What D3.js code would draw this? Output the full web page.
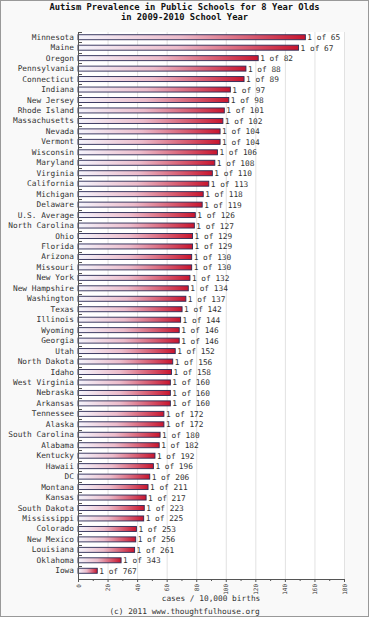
<!DOCTYPE html>
<html><head><meta charset="utf-8">
<script src="https://cdn.jsdelivr.net/npm/d3@7/dist/d3.min.js"></script>
<style>
html,body{margin:0;padding:0;background:#fff;}
svg{display:block;}
text{font-family:"DejaVu Sans Mono",monospace;}
</style></head>
<body>
<svg id="c" width="369" height="617"></svg>
<script>
const states = ["Minnesota","Maine","Oregon","Pennsylvania","Connecticut","Indiana","New Jersey","Rhode Island","Massachusetts","Nevada","Vermont","Wisconsin","Maryland","Virginia","California","Michigan","Delaware","U.S. Average","North Carolina","Ohio","Florida","Arizona","Missouri","New York","New Hampshire","Washington","Texas","Illinois","Wyoming","Georgia","Utah","North Dakota","Idaho","West Virginia","Nebraska","Arkansas","Tennessee","Alaska","South Carolina","Alabama","Kentucky","Hawaii","DC","Montana","Kansas","South Dakota","Mississippi","Colorado","New Mexico","Louisiana","Oklahoma","Iowa"];
const oneIn = [65,67,82,88,89,97,98,101,102,104,104,106,108,110,113,118,119,126,127,129,129,130,130,132,134,137,142,144,146,146,152,156,158,160,160,160,172,172,180,182,192,196,206,211,217,223,225,253,256,261,343,767];
const xTicks = [0,20,40,60,80,100,120,140,160,180];
const titleLines = ["Autism Prevalence in Public Schools for 8 Year Olds","in 2009-2010 School Year"];
const xTitle = "cases / 10,000 births";
const footer = "(c) 2011 www.thoughtfulhouse.org";

const data = states.map((s,i)=>({state:s, n:oneIn[i], v:10000/oneIn[i]}));
const svg = d3.select("#c");
const W=369,H=617;
const L=78,R=344,T=32,B=576,AX=579;

svg.append("rect").attr("x",0.5).attr("y",0.5).attr("width",W-1).attr("height",H-1)
  .attr("fill","#f9f9f9").attr("stroke","#999");

const x = d3.scaleLinear().domain([0,180]).range([L,R]);
const y = d3.scaleBand().domain(states).range([T,B]).padding(0);

svg.append("rect").attr("x",L).attr("y",T).attr("width",R-L).attr("height",AX-T).attr("fill","#fff");

const defs = svg.append("defs");
const g1 = defs.append("linearGradient").attr("id","bg").attr("x1","0").attr("x2","1").attr("y1","0").attr("y2","0");
g1.append("stop").attr("offset","0%").attr("stop-color","#f4f4fc");
g1.append("stop").attr("offset","45%").attr("stop-color","#ecbccb");
g1.append("stop").attr("offset","100%").attr("stop-color","#c8142e");

// grid
svg.append("g").selectAll("line").data(xTicks.slice(1)).join("line")
  .attr("x1",d=>x(d)+0.5).attr("x2",d=>x(d)+0.5).attr("y1",T).attr("y2",AX)
  .attr("stroke","#e2e2e2");

// title
svg.append("g").selectAll("text").data(titleLines).join("text")
  .attr("x",W/2).attr("y",(d,i)=>10+i*9.5).attr("text-anchor","middle")
  .attr("font-size",8.8).attr("font-weight","bold").attr("fill","#111").text(d=>d);

// bars
const bh=5;
svg.append("g").selectAll("rect").data(data).join("rect")
  .attr("x",L).attr("y",d=>y(d.state)+y.bandwidth()/2-bh/2)
  .attr("width",d=>x(d.v)-L).attr("height",bh)
  .attr("fill","url(#bg)").attr("stroke","#2a2a55").attr("stroke-width",0.9);

// value labels
svg.append("g").selectAll("text").data(data).join("text")
  .attr("x",d=>x(d.v)+2).attr("y",d=>y(d.state)+y.bandwidth()/2+3)
  .attr("font-size",7.8).attr("fill","#333").text(d=>"1 of "+d.n);

// y axis
const ya = svg.append("g").attr("transform",`translate(${L},0)`)
  .call(d3.axisLeft(y).tickSize(0).tickPadding(4));
ya.select(".domain").remove();
ya.selectAll("text").attr("font-family","DejaVu Sans Mono,monospace").attr("font-size",7.8).attr("fill","#333");
svg.append("line").attr("x1",L+0.5).attr("x2",L+0.5).attr("y1",T).attr("y2",AX).attr("stroke","#555");
svg.append("g").selectAll("line").data(states).join("line")
  .attr("x1",L).attr("x2",L+4).attr("y1",d=>Math.round(y(d))+0.5).attr("y2",d=>Math.round(y(d))+0.5)
  .attr("stroke","#555");

// x axis
svg.append("line").attr("x1",L).attr("x2",R+0.5).attr("y1",AX+0.5).attr("y2",AX+0.5).attr("stroke","#555");
const xa = svg.append("g").attr("transform",`translate(0,${AX})`)
  .call(d3.axisBottom(x).tickValues(xTicks).tickSize(3).tickFormat(d3.format("d")));
xa.select(".domain").remove();
xa.selectAll("line").attr("stroke","#555");
xa.selectAll("text").attr("font-family","DejaVu Sans Mono,monospace").attr("font-size",6).attr("fill","#333")
  .attr("text-anchor","end").attr("transform","rotate(-90)").attr("x",-5).attr("y",0).attr("dy","0.35em");
svg.append("g").selectAll("line").data(d3.range(10,180,20)).join("line")
  .attr("x1",d=>x(d)+0.5).attr("x2",d=>x(d)+0.5).attr("y1",AX).attr("y2",AX+2).attr("stroke","#555");

svg.append("text").attr("x",(L+R)/2).attr("y",601).attr("text-anchor","middle")
  .attr("font-size",7.8).attr("fill","#333").text(xTitle);
svg.append("text").attr("x",W/2).attr("y",614).attr("text-anchor","middle")
  .attr("font-size",7.8).attr("fill","#333").text(footer);
</script>
</body></html>
